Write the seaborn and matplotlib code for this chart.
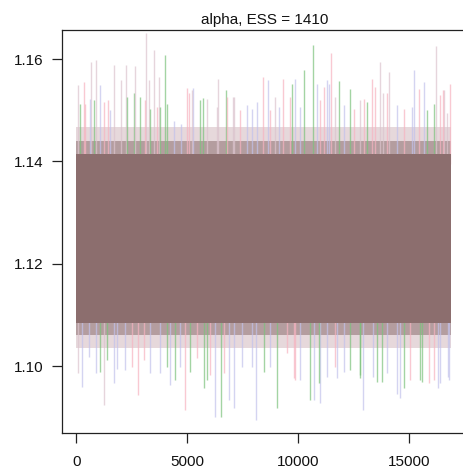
import matplotlib
matplotlib.use("Agg")
import matplotlib.pyplot as plt
import seaborn as sns
import numpy as np

# ---- data (trace plot of 4 chains) ----
title = "alpha, ESS = 1410"
n_iter_last = 16880
x_ticks = [0, 5000, 10000, 15000]
y_ticks = [1.10, 1.12, 1.14, 1.16]
y_tick_labels = ["1.10", "1.12", "1.14", "1.16"]

# dense core of the overlapping chains (lower, upper) and its fading fringes
core_band = (1.1085, 1.1415)
fringe_inner = (1.1060, 1.1440)
fringe_outer = (1.1035, 1.1468)

chain_names = ["g", "p", "l", "m"]

# visible spikes above the band: iteration, value, chain
top_iter = [60, 330, 660, 870, 1050, 1710, 2030, 2220, 2610, 2660, 3150, 3290, 3510, 3740,
            4010, 4990, 5240, 5700, 6380, 6740, 7060, 8410, 8620, 9290, 9870, 10270, 10650,
            11290, 11490, 11820, 12310, 13320, 13670, 14070, 15200, 15650, 16200, 16550, 16850,
            180, 405, 600, 780, 1230, 1430, 1530, 2280, 2880, 3110, 3330, 3630, 3780, 4080,
            4380, 4710, 5060, 5210, 5590, 5890, 6340, 6790, 7090, 7390, 7690, 7910, 8140,
            8740, 8970, 9110, 9610, 9720, 10090, 10840, 10990, 11170, 11370, 11670, 12040,
            12490, 12790, 12940, 13120, 13470, 13820, 14000, 14450, 14750, 15120, 15420,
            15800, 16100, 16370, 16520, 16700]
top_value = [1.1549, 1.1555, 1.1595, 1.1598, 1.1549, 1.1588, 1.1559, 1.1588, 1.1533, 1.1586,
             1.1652, 1.1559, 1.1618, 1.1565, 1.1608, 1.1543, 1.1543, 1.1524, 1.1562, 1.1539,
             1.1526, 1.1565, 1.1559, 1.1562, 1.1562, 1.1578, 1.1627, 1.1559, 1.1613, 1.1557,
             1.1541, 1.1562, 1.1595, 1.1575, 1.1578, 1.1555, 1.1625, 1.1539, 1.1552,
             1.1513, 1.1513, 1.1523, 1.1520, 1.1516, 1.1520, 1.1500, 1.1526, 1.1526, 1.1520,
             1.1503, 1.1507, 1.1507, 1.1513, 1.1480, 1.1473, 1.1533, 1.1539, 1.1520, 1.1523,
             1.1507, 1.1526, 1.1526, 1.1500, 1.1510, 1.1503, 1.1516,
             1.1500, 1.1526, 1.1507, 1.1526, 1.1552, 1.1507, 1.1552, 1.1520, 1.1546, 1.1552,
             1.1526, 1.1510, 1.1503, 1.1520, 1.1523, 1.1516, 1.1546, 1.1533, 1.1533, 1.1510,
             1.1503, 1.1507, 1.1542, 1.1500, 1.1513, 1.1529, 1.1539, 1.1494]
top_chain = ["m", "p", "m", "m", "l", "m", "m", "m", "g", "m", "m", "m", "m", "m", "g", "p",
             "l", "g", "m", "g", "m", "p", "l", "p", "l", "g", "g", "l", "p", "g", "g", "p",
             "m", "m", "l", "l", "m", "m", "p",
             "g", "p", "l", "g", "p", "p", "l", "g", "g", "p", "g", "p", "g", "g", "l", "l",
             "p", "m", "g", "m", "m", "p", "m", "p", "l", "l", "l",
             "p", "m", "l", "p", "g", "l", "l", "p", "p", "l", "m", "l", "p", "m", "p", "g",
             "p", "m", "p", "l", "p", "l", "p", "g", "g", "p", "p", "m"]

# visible spikes below the band
bot_iter = [60, 250, 890, 1230, 1680, 2780, 3330, 4230, 4910, 5740, 6260, 6520, 6860, 7120,
            8110, 9040, 9870, 10540, 10960, 11740, 12790, 12910, 13550, 14570, 14750, 15570,
            16320, 16800,
            555, 1080, 1380, 1830, 2210, 2510, 3030, 3780, 4080, 4460, 4690, 5140, 5440, 5890,
            6040, 6640, 7460, 7910,
            8440, 8740, 9490, 9790, 10090, 10690, 10920, 11290, 11670, 12040, 12340, 12790,
            13390, 13770, 14000, 14450, 15050, 15500, 15870, 16100, 16400, 16770]
bot_value = [1.0986, 1.0959, 1.0986, 1.0924, 1.0966, 1.0943, 1.0986, 1.0963, 1.0914, 1.0957,
             1.0901, 1.0901, 1.0933, 1.0918, 1.0894, 1.0918, 1.0973, 1.0933, 1.0927, 1.0976,
             1.0976, 1.0914, 1.0969, 1.0937, 1.0957, 1.0969, 1.0957, 1.0973,
             1.1018, 1.0989, 1.1012, 1.0995, 1.0992, 1.0999, 1.1012, 1.0986, 1.0999, 1.0973,
             1.0999, 1.0989, 1.1015, 1.0973, 1.0982, 1.0986, 1.0999, 1.0999,
             1.0989, 1.0999, 1.1025, 1.0976, 1.0973, 1.0933, 1.0966, 1.0979, 1.0999, 1.0989,
             1.0992, 1.0982, 1.0979, 1.0969, 1.0986, 1.0946, 1.0973, 1.0973, 1.0966, 1.0973,
             1.0966, 1.0979]
bot_chain = ["m", "l", "l", "m", "l", "p", "l", "l", "p", "g", "l", "g", "l", "l", "l", "g",
             "p", "g", "l", "l", "g", "l", "g", "l", "g", "g", "l", "l",
             "l", "g", "g", "l", "l", "p", "p", "l", "g", "g", "l", "g", "p", "g", "p", "p",
             "l", "l",
             "g", "l", "p", "p", "l", "l", "g", "l", "p", "l", "g", "g", "l", "g", "l", "l",
             "p", "g", "p", "p", "l", "l"]

# ---- style ----
sns.set_theme(style="white")
plt.rcParams["font.family"] = ["Liberation Sans", "DejaVu Sans"]

chain_colors = dict(zip(chain_names, ["#7cc27c", "#f7b3c0", "#c2c2ec", "#dcc4ce"]))
core_color = "#8c6e6e"

fig = plt.figure(figsize=(4.64, 4.75), dpi=100)
ax = fig.add_axes([62 / 464, 42 / 475, 406 / 464, 403 / 475])

xs = [0, n_iter_last]
# fading fringes of the dense band
ax.fill_between(xs, fringe_outer[0], fringe_outer[1], color="#c9a9b0", alpha=0.45, lw=0, zorder=1)
ax.fill_between(xs, fringe_inner[0], fringe_inner[1], color=core_color, alpha=0.55, lw=0, zorder=1)

# spikes
for it, v, c in zip(top_iter, top_value, top_chain):
    ax.vlines(it, core_band[1] - 0.002, v, color=chain_colors[c], lw=1.0, alpha=0.7, zorder=2)
for it, v, c in zip(bot_iter, bot_value, bot_chain):
    ax.vlines(it, v, core_band[0] + 0.002, color=chain_colors[c], lw=1.0, alpha=0.7, zorder=2)

# dense core
ax.fill_between(xs, core_band[0], core_band[1], color=core_color, alpha=1.0, lw=0, zorder=3)

ax.set_xlim(-650, 17650)
ax.set_ylim(1.0869, 1.1657)
ax.set_xticks(x_ticks)
ax.set_xticklabels([str(t) for t in x_ticks])
ax.set_yticks(y_ticks)
ax.set_yticklabels(y_tick_labels)

for s in ax.spines.values():
    s.set_color("#222222")
    s.set_linewidth(0.9)
    s.set_zorder(5)
ax.tick_params(axis="both", direction="out", length=7, width=0.9, color="#222222",
               labelsize=11, labelcolor="#111111")
ax.tick_params(axis="x", pad=9)
ax.tick_params(axis="y", pad=6)
ax.tick_params(left=True, bottom=True)
ax.grid(False)
ax.set_title(title, fontsize=11, pad=4, color="#111111")

fig.savefig("out.png", dpi=100)
